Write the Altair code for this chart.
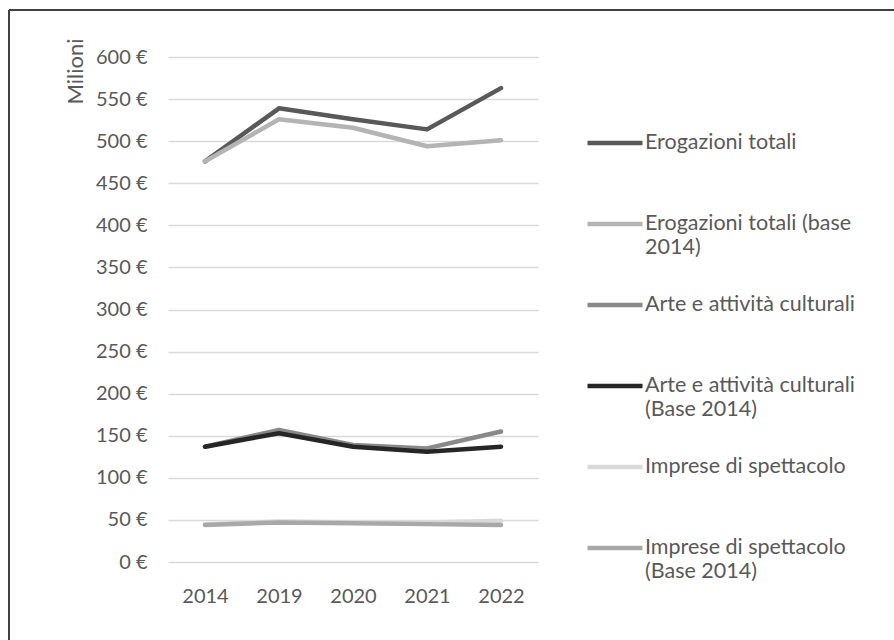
import altair as alt
import pandas as pd

years = ["2014", "2019", "2020", "2021", "2022"]
series_names = [
    "Erogazioni totali",
    "Erogazioni totali (base 2014)",
    "Arte e attività culturali",
    "Arte e attività culturali (Base 2014)",
    "Imprese di spettacolo",
    "Imprese di spettacolo (Base 2014)",
]
erogazioni = [476, 539, 526, 514, 563]
erogazioni_base = [476, 526, 516, 494, 501]
arte = [137, 157, 139, 135, 155]
arte_base = [137, 153, 137, 131, 137]
imprese = [45, 48, 47, 47, 49]
imprese_base = [44, 47, 46, 45, 44]
colors = ["#595959", "#B4B4B4", "#898989", "#262626", "#D9D9D9", "#A8A8A8"]
y_ticks = list(range(0, 601, 50))

all_values = [erogazioni, erogazioni_base, arte, arte_base, imprese, imprese_base]
rows = []
for idx, (name, vals) in enumerate(zip(series_names, all_values)):
    for y, v in zip(years, vals):
        rows.append({"Anno": y, "Serie": name, "Valore": v, "ord": idx})
df = pd.DataFrame(rows)

# multi-line legend labels
wrapped = {
    "Erogazioni totali (base 2014)": ["Erogazioni totali (base", "2014)"],
    "Arte e attività culturali (Base 2014)": ["Arte e attività culturali", "(Base 2014)"],
    "Imprese di spettacolo (Base 2014)": ["Imprese di spettacolo", "(Base 2014)"],
}
expr = "datum.label"
for k, v in wrapped.items():
    expr = f"datum.label == '{k}' ? ['{v[0]}', '{v[1]}'] : " + expr

FONT = "Lato"
TXT = "#595959"

lines = alt.Chart(df).mark_line(strokeWidth=4.5, strokeCap="round", strokeJoin="round").encode(
    x=alt.X("Anno:O", sort=years, scale=alt.Scale(padding=0.5),
            axis=alt.Axis(title=None, labelAngle=0, domain=False, ticks=False, grid=False,
                          labelPadding=24, labelFontSize=20, labelColor=TXT, labelFont=FONT)),
    y=alt.Y("Valore:Q", scale=alt.Scale(domain=[0, 600], nice=False),
            axis=alt.Axis(values=y_ticks, labelExpr="datum.value + ' €'", domain=False, ticks=False,
                          labelPadding=21, labelFontSize=20, labelColor=TXT, labelFont=FONT,
                          gridColor="#D9D9D9", gridWidth=1.5,
                          title="Milioni", titleAngle=270, titleX=-93, titleY=14,
                          titleAlign="center", titleBaseline="middle",
                          titleFontSize=22, titleFontWeight="normal", titleColor=TXT, titleFont=FONT)),
    color=alt.Color("Serie:N", sort=series_names,
                    scale=alt.Scale(domain=series_names, range=colors),
                    legend=alt.Legend(title=None, orient="none", legendX=417, legendY=56,
                                      symbolType="stroke", symbolSize=3025, symbolStrokeWidth=4.5,
                                      labelFontSize=21.5, labelColor=TXT, labelFont=FONT,
                                      labelOffset=0, labelLimit=400, labelExpr=expr,
                                      rowPadding=17, gridAlign="all", padding=0)),
    order=alt.Order("ord:Q"),
)

frame_left = alt.Chart(df).mark_rule(color="#404040", strokeWidth=1.5).encode(
    x=alt.value(-159), y=alt.value(-47), y2=alt.value(600))
frame_top = alt.Chart(df).mark_rule(color="#404040", strokeWidth=1.5).encode(
    x=alt.value(-159), x2=alt.value(740), y=alt.value(-47))

chart = alt.layer(frame_left, frame_top, lines).properties(
    width=370, height=505,
    autosize=alt.AutoSizeParams(type="none"),
    padding={"left": 168, "top": 57, "right": 356, "bottom": 78},
).configure(font=FONT, background="white").configure_view(strokeWidth=0, stroke="transparent")

chart.save("out.html", embed_options={"renderer": "svg", "actions": False})
